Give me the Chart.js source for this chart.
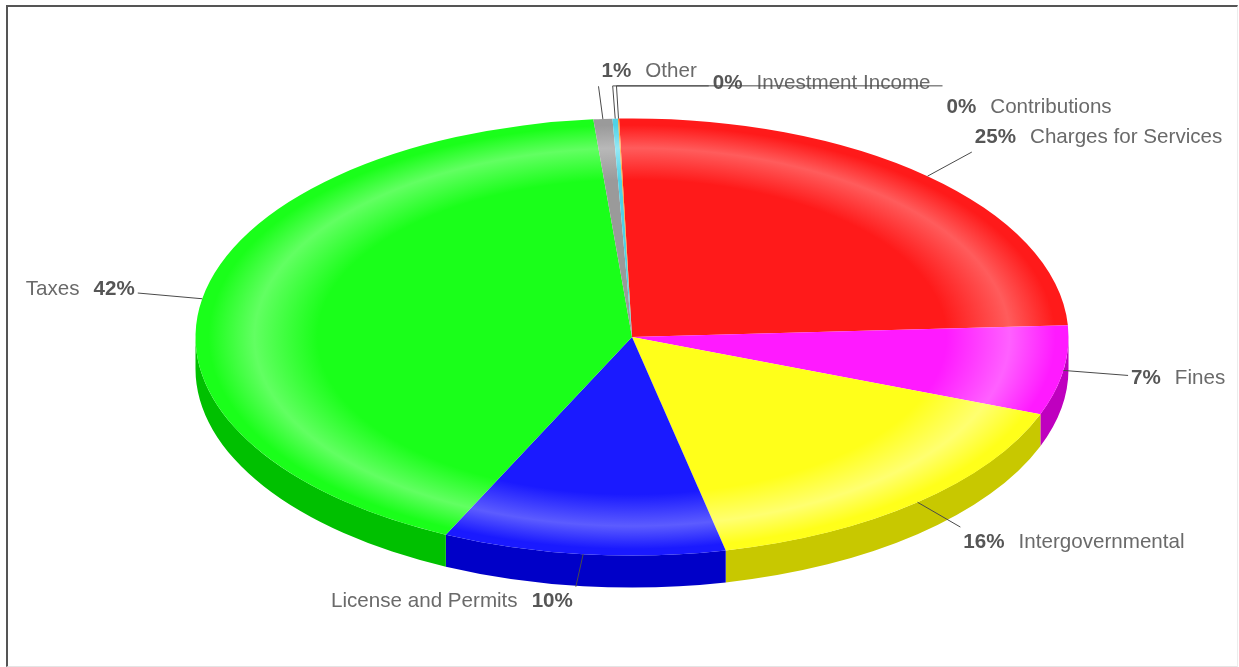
<!DOCTYPE html>
<html>
<head>
<meta charset="utf-8">
<script src="https://cdn.jsdelivr.net/npm/chart.js@4.4.1/dist/chart.umd.min.js"></script>
<style>
    html, body { margin: 0; padding: 0; background: #fff; overflow: hidden; }
    #frame {
        position: absolute; left: 6px; top: 5px; width: 1229px; height: 659px;
        border-top: 2px solid #555; border-left: 2px solid #555;
        border-right: 1px solid #ececec; border-bottom: 1px solid #e4e4e4;
    }
    #wrap { position: absolute; left: 0; top: 0; width: 1239px; height: 667px; }
</style>
</head>
<body>
<div id="frame"></div>
<div id="wrap"><canvas id="revenuePie"></canvas></div>
<script>
// ═══════════════════════════════════════════════════════════════
// Revenue by source — tilted pie with a rim, drawn with a Chart.js
// pie plus a small plugin that squashes it and paints the side wall.
// ═══════════════════════════════════════════════════════════════

const categories = [
    'Charges for Services', 'Fines', 'Intergovernmental', 'License and Permits',
    'Taxes', 'Other', 'Investment Income', 'Contributions',
];
const shares = [24.6, 6.6, 15.8, 10.45, 41.55, 0.7, 0.2, 0.04];

const topColors  = ['#ff1a1a', '#ff1aff', '#ffff1a', '#1a1aff', '#1aff1a', '#9a9a9a', '#4fd2e6', '#ff9a1a'];
const bandColors = ['#ff5c5c', '#ff60ff', '#ffff70', '#5c5cff', '#62ff62', '#b8b8b8', '#96e8f4', '#ffb860'];
const sideColors = ['#c80000', '#bf00bf', '#c8c800', '#0000c8', '#00c000', '#777777', '#2aa8b8', '#cc7000'];

// on-screen half axes of the top face, and wall height
const RIM_X = 436.5;
const RIM_Y = 218.5;
const DEPTH = 32;
const LEAD = 1.15;        // leader lines end on an ellipse 15% bigger
const GAP = 14;           // space between "25%" and its name
const FONT = '20.6px "Liberation Sans", Arial, sans-serif';
const FONT_BOLD = 'bold 20.6px "Liberation Sans", Arial, sans-serif';

function topFill(context) {
    const i = context.dataIndex || 0;
    const area = context.chart.chartArea;
    if (!area) return topColors[i];
    const cx = (area.left + area.right) / 2;
    const cy = (area.top + area.bottom) / 2;
    const r = Math.min(area.width, area.height) / 2;
    const g = context.chart.ctx.createRadialGradient(cx, cy, 0, cx, cy, r);
    g.addColorStop(0, topColors[i]);
    g.addColorStop(0.72, topColors[i]);
    g.addColorStop(0.865, bandColors[i]);
    g.addColorStop(0.97, topColors[i]);
    g.addColorStop(1, topColors[i]);
    return g;
}

function overlaps(a, b) {
    return a.x < b.x + b.w && b.x < a.x + a.w && a.y - a.h / 2 < b.y + b.h / 2 && b.y - b.h / 2 < a.y + a.h / 2;
}

function drawLabels(chart) {
    const ctx = chart.ctx;
    const arcs = chart.getDatasetMeta(0).data;
    const total = shares.reduce(function (s, v) { return s + v; }, 0);
    const placed = [];

    ctx.save();
    ctx.textBaseline = 'middle';
    ctx.lineWidth = 1;
    ctx.strokeStyle = '#4a4a4a';

    arcs.forEach(function (arc, i) {
        const mid = (arc.startAngle + arc.endAngle) / 2;
        const c = Math.cos(mid);
        const s = Math.sin(mid);
        const ax = arc.x + RIM_X * c, ay = arc.y + RIM_Y * s;
        const ex = arc.x + RIM_X * LEAD * c, ey = arc.y + RIM_Y * LEAD * s;

        const pct = Math.round(shares[i] / total * 100) + '%';
        const name = categories[i];
        ctx.font = FONT_BOLD;
        const wp = ctx.measureText(pct).width;
        ctx.font = FONT;
        const wn = ctx.measureText(name).width;
        const w = wp + GAP + wn;
        const right = c > -0.09;

        // text sits above the leader end up top, below it down front
        const dy = Math.sign(s) * Math.min(Math.abs(s) * 22, 15);
        const box = { x: right ? ex + 3 : ex - 3 - w, y: ey + dy, w: w, h: 20, step: 0 };
        const last = placed[placed.length - 1];
        let shifted = false;
        if (last && overlaps(box, last)) {
            // crowded tiny slices: cascade to the right of the previous label
            box.step = last.step + 1;
            box.x = last.x + last.w + 16;
            box.y = last.y + 12 * box.step;
            shifted = true;
        }
        placed.push(box);

        ctx.beginPath();
        ctx.moveTo(ax, ay);
        ctx.lineTo(ex, ey);
        if (shifted) ctx.lineTo(box.x - 4, ey);
        ctx.stroke();

        const pctX = right ? box.x : box.x + wn + GAP;
        const nameX = right ? box.x + wp + GAP : box.x;
        ctx.font = FONT_BOLD;
        ctx.fillStyle = '#565656';
        ctx.fillText(pct, pctX, box.y);
        ctx.font = FONT;
        ctx.fillStyle = '#6a6a6a';
        ctx.fillText(name, nameX, box.y);
    });
    ctx.restore();
}

const tiltPlugin = {
    id: 'tilt',
    beforeDatasetsDraw(chart) {
        const ctx = chart.ctx;
        const arcs = chart.getDatasetMeta(0).data;
        const x = arcs[0].x, y = arcs[0].y, r = arcs[0].outerRadius;
        const sx = RIM_X / r, sy = RIM_Y / r;
        ctx.save();
        ctx.translate(x, y);
        ctx.scale(sx, sy);
        ctx.translate(-x, -y);

        // side wall, only the front half (0..PI) shows
        const d = DEPTH / sy;
        arcs.forEach(function (arc, i) {
            const a1 = Math.max(arc.startAngle, 0);
            const a2 = Math.min(arc.endAngle, Math.PI);
            if (a2 <= a1) return;
            ctx.beginPath();
            ctx.arc(x, y, r, a1, a2);
            ctx.arc(x, y + d, r, a2, a1, true);
            ctx.closePath();
            ctx.fillStyle = sideColors[i];
            ctx.fill();
        });
    },
    afterDatasetsDraw(chart) {
        chart.ctx.restore();
        drawLabels(chart);
    },
};

new Chart(document.getElementById('revenuePie'), {
    type: 'pie',
    data: {
        labels: categories,
        datasets: [{
            data: shares,
            backgroundColor: topFill,
            borderWidth: 0,
            clip: false,
        }],
    },
    options: {
        responsive: true,
        maintainAspectRatio: false,
        animation: false,
        events: [],
        rotation: -1.7,
        layout: { padding: { left: 332, right: 307, top: 37, bottom: 30 } },
        plugins: {
            legend: { display: false },
            tooltip: { enabled: false },
        },
    },
    plugins: [tiltPlugin],
});
</script>
</body>
</html>
